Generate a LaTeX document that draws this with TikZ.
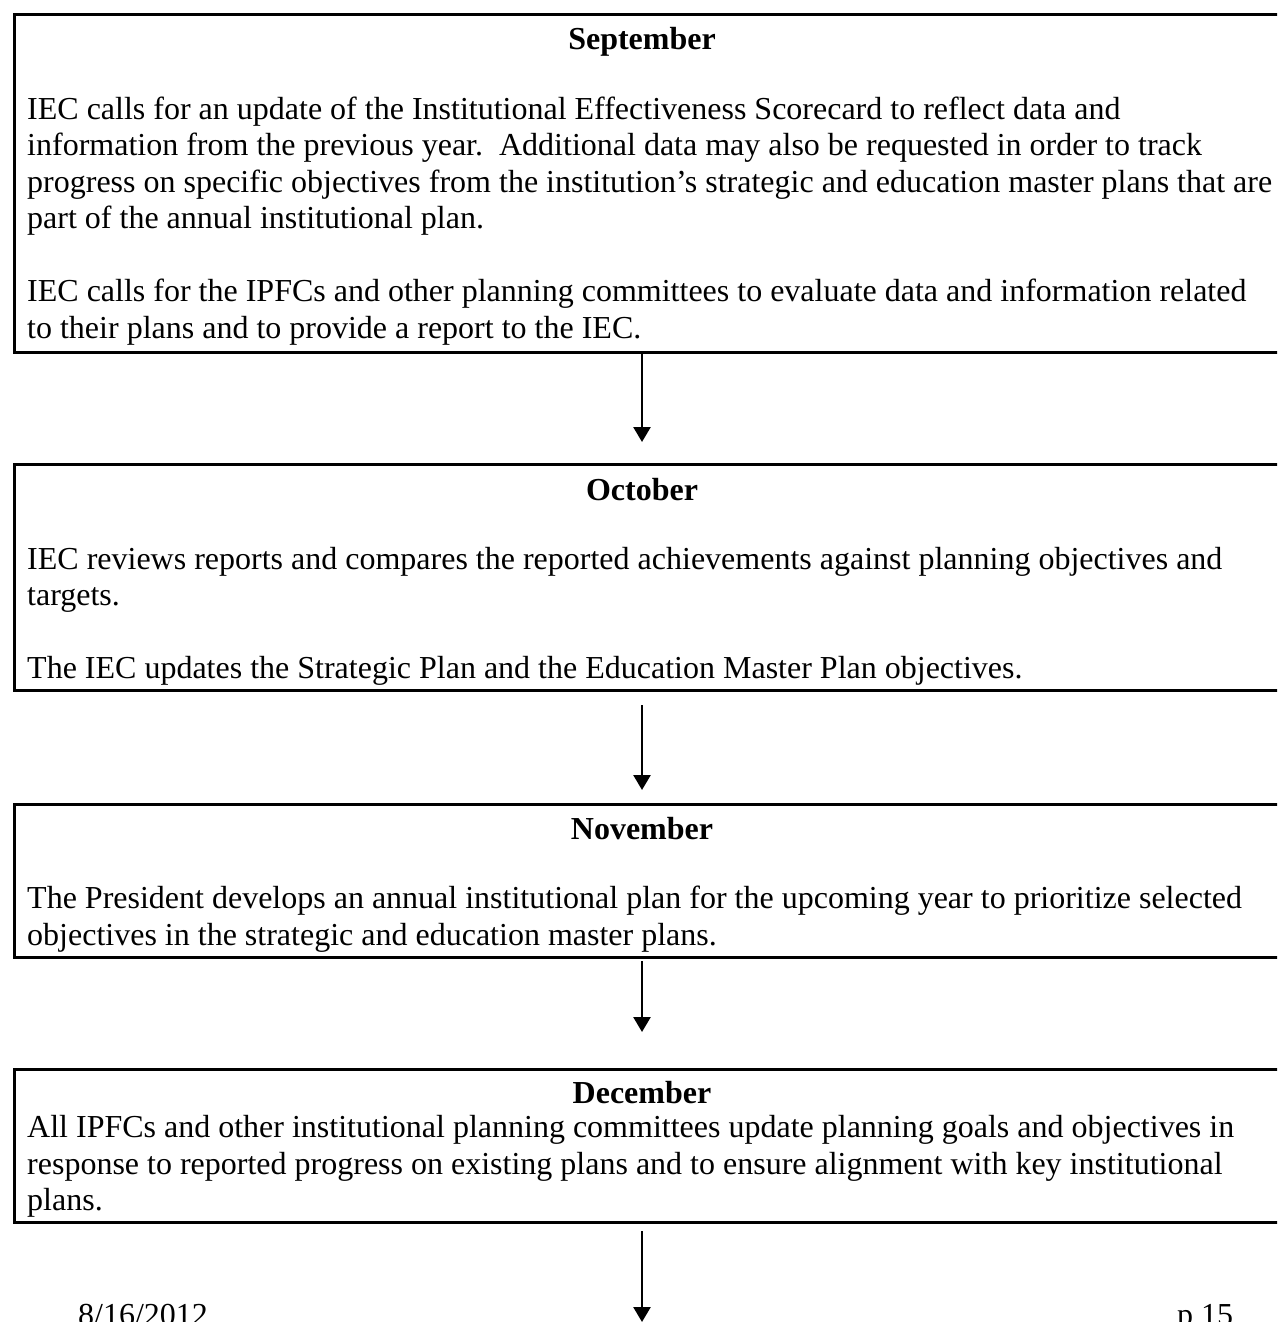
\documentclass[tikz,border=0pt]{standalone}
\usepackage{fontspec}
\setmainfont{Liberation Serif}
\usetikzlibrary{arrows.meta}

\tikzset{
  stage/.style={draw, line width=3pt, rectangle, anchor=north west,
    minimum width=1300pt, inner sep=0pt},
  month/.style={anchor=base, font=\fontsize{32}{36.5}\selectfont\bfseries, inner sep=0pt},
  body/.style={anchor=base west, align=left, inner sep=0pt},
  flow/.style={line width=2.6pt, -{Triangle[width=17pt,length=15pt]}},
  foot/.style={anchor=base west, inner sep=0pt}
}

\begin{document}
\begin{tikzpicture}[x=1pt, y=-1pt,
  every node/.append style={font=\fontsize{32}{36.5}\selectfont}]
\useasboundingbox (0,0) rectangle (1277,1322);
\clip (0,0) rectangle (1277,1322);

% stage boxes (running off the right edge of the page)
\node[stage, minimum height=338pt] (b1) at (13,13) {};
\node[stage, minimum height=226pt] (b2) at (13,463) {};
\node[stage, minimum height=153pt] (b3) at (13,803) {};
\node[stage, minimum height=153pt] (b4) at (13,1068) {};

% text blocks are placed by the baseline of their last line

% September
\node[month] (m1) at (642,50) {September};
\node[body] (t1a) at (27,228.5) {IEC calls for an update of the Institutional Effectiveness Scorecard to reflect data and\\
information from the previous year.\ \ Additional data may also be requested in order to track\\
progress on specific objectives from the institution’s strategic and education master plans that are\\
part of the annual institutional plan.};
\node[body] (t1b) at (27,338) {IEC calls for the IPFCs and other planning committees to evaluate data and information related\\
to their plans and to provide a report to the IEC.};

% October
\node[month] (m2) at (642,500) {October};
\node[body] (t2a) at (27,605.5) {IEC reviews reports and compares the reported achievements against planning objectives and\\
targets.};
\node[body] (t2b) at (27,678.5) {The IEC updates the Strategic Plan and the Education Master Plan objectives.};

% November
\node[month] (m3) at (642,839) {November};
\node[body] (t3) at (27,945) {The President develops an annual institutional plan for the upcoming year to prioritize selected\\
objectives in the strategic and education master plans.};

% December
\node[month] (m4) at (642,1103) {December};
\node[body] (t4) at (27,1210.5) {All IPFCs and other institutional planning committees update planning goals and objectives in\\
response to reported progress on existing plans and to ensure alignment with key institutional\\
plans.};

% connectors between the stages
\coordinate (a1s) at ([yshift=3pt]b1.south -| m1);
\coordinate (a1e) at ([yshift=21pt]b2.north -| m1);
\draw[flow] (a1s) -- (a1e);
\coordinate (a2s) at ([yshift=-13pt]b2.south -| m2);
\coordinate (a2e) at ([yshift=13pt]b3.north -| m2);
\draw[flow] (a2s) -- (a2e);
\coordinate (a3s) at ([yshift=-2pt]b3.south -| m3);
\coordinate (a3e) at ([yshift=36pt]b4.north -| m3);
\draw[flow] (a3s) -- (a3e);
\coordinate (a4s) at ([yshift=-7pt]b4.south -| m4);
\coordinate (a4e) at (642,1322);
\draw[flow] (a4s) -- (a4e);

% page footer
\node[foot] (date) at (78,1325) {8/16/2012};
\node[foot] (page) at (1177,1325) {p 15};
\end{tikzpicture}
\end{document}
